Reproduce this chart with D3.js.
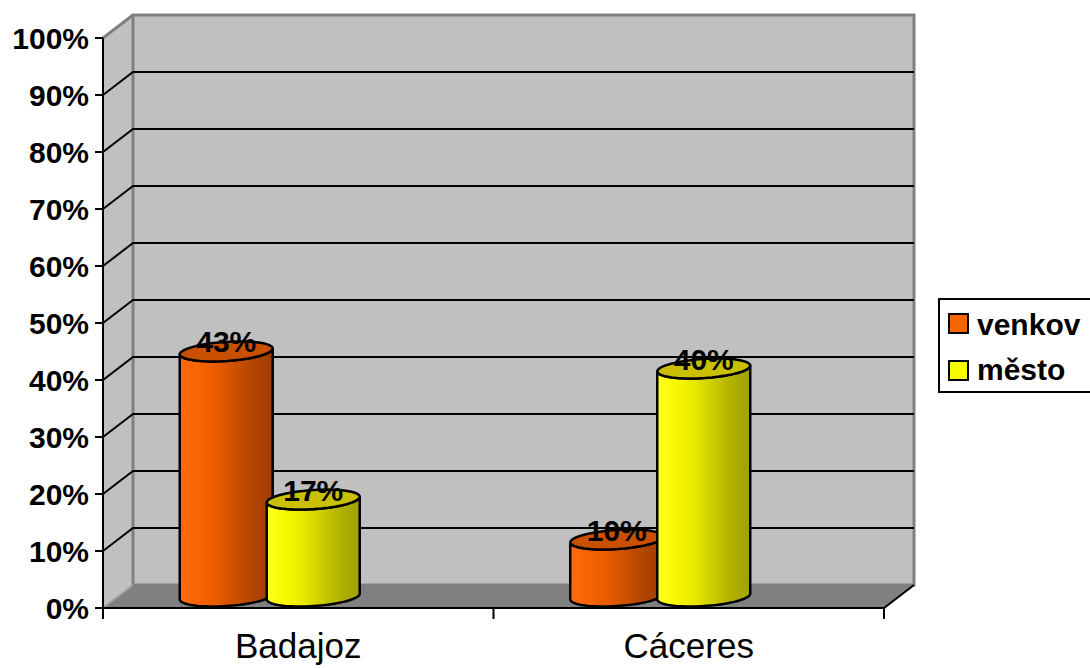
<!DOCTYPE html>
<meta charset="utf-8">
<style>
  body { margin: 0; background: #ffffff; }
  text { font-family: Arial, "Liberation Sans", sans-serif; }
</style>
<script src="https://d3js.org/d3.v7.min.js"></script>
<div id="chart"></div>
<script>

var categories = ["Badajoz", "Cáceres"];
var seriesNames = ["venkov", "město"];
var venkov = [43, 10];
var mesto = [17, 40];
var yTicks = [0, 10, 20, 30, 40, 50, 60, 70, 80, 90, 100];

var width = 1090, height = 668;
var svg = d3.select("#chart").append("svg")
    .attr("width", width)
    .attr("height", height);

// front plane of the 3d box, the back wall sits up and to the right
var dx = 30, dy = -23;
var x0 = 103, x1 = 884;
var y = d3.scaleLinear().domain([0, 100]).range([608, 38]);
var x = d3.scaleBand().domain(categories).range([x0, x1]);

var seriesColors = [
  { top: "#c85000", stops: ["#ff6a10", "#f86400", "#e85c00", "#cc5000", "#b04400", "#a03c00"] },
  { top: "#c8c000", stops: ["#ffff20", "#f8f800", "#e8e800", "#cccc00", "#b0b000", "#a0a000"] }
];

var defs = svg.append("defs");
seriesColors.forEach(function(c, i) {
  var g = defs.append("linearGradient")
      .attr("id", "grad" + i)
      .attr("x1", "0%").attr("x2", "100%").attr("y1", "0%").attr("y2", "0%");
  c.stops.forEach(function(s, k) {
    g.append("stop").attr("offset", (k / (c.stops.length - 1) * 100) + "%").attr("stop-color", s);
  });
});

// side wall
svg.append("polygon")
    .attr("points", [[x0, y(100)], [x0 + dx, y(100) + dy], [x0 + dx, y(0) + dy], [x0, y(0)]].join(" "))
    .attr("fill", "#c0c0c0");

// back wall
svg.append("rect")
    .attr("x", x0 + dx).attr("y", y(100) + dy)
    .attr("width", x1 - x0).attr("height", y(0) - y(100))
    .attr("fill", "#c0c0c0")
    .attr("stroke", "#808080")
    .attr("stroke-width", 3);

// floor
svg.append("polygon")
    .attr("points", [[x0, y(0)], [x0 + dx, y(0) + dy], [x1 + dx, y(0) + dy], [x1, y(0)]].join(" "))
    .attr("fill", "#808080");

svg.append("line")
    .attr("x1", x0).attr("y1", y(100))
    .attr("x2", x0 + dx).attr("y2", y(100) + dy)
    .attr("stroke", "#808080").attr("stroke-width", 3);
svg.append("line")
    .attr("x1", x0).attr("y1", y(0))
    .attr("x2", x0 + dx).attr("y2", y(0) + dy)
    .attr("stroke", "#a0a0a0").attr("stroke-width", 2);

// gridlines
var grid = svg.append("g");
yTicks.filter(function(t) { return t > 0 && t < 100; }).forEach(function(t) {
  grid.append("polyline")
      .attr("points", [[x0, y(t)], [x0 + dx, y(t) + dy], [x1 + dx, y(t) + dy]].join(" "))
      .attr("fill", "none")
      .attr("stroke", "#000")
      .attr("stroke-width", 2);
});

// axes
var yAxis = svg.append("g");
yAxis.append("line")
    .attr("x1", x0).attr("x2", x0).attr("y1", y(100)).attr("y2", y(0))
    .attr("stroke", "#000").attr("stroke-width", 2);
yTicks.forEach(function(t) {
  yAxis.append("line")
      .attr("x1", x0 - 8).attr("x2", x0).attr("y1", y(t)).attr("y2", y(t))
      .attr("stroke", "#000").attr("stroke-width", 2);
  yAxis.append("text")
      .attr("x", x0 - 14).attr("y", y(t))
      .attr("dy", "0.36em")
      .attr("text-anchor", "end")
      .attr("font-size", "30px")
      .attr("font-weight", "bold")
      .text(t + "%");
});

var xAxis = svg.append("g");
xAxis.append("polyline")
    .attr("points", [[x0, y(0)], [x1, y(0)], [x1 + dx, y(0) + dy]].join(" "))
    .attr("fill", "none").attr("stroke", "#000").attr("stroke-width", 2);
[x0, x0 + x.bandwidth(), x1].forEach(function(t) {
  xAxis.append("line")
      .attr("x1", t).attr("x2", t).attr("y1", y(0)).attr("y2", y(0) + 11)
      .attr("stroke", "#000").attr("stroke-width", 2);
});
categories.forEach(function(c) {
  xAxis.append("text")
      .attr("x", x(c) + x.bandwidth() / 2)
      .attr("y", 658)
      .attr("text-anchor", "middle")
      .attr("font-size", "35px")
      .text(c);
});

// cylinders
var a = 44.5, bx = 13.5, by = -10;   // half width and half depth vector
var t0 = Math.atan2(bx, a);
function pt(cx, cy, t) {
  return [cx + a * Math.cos(t) + bx * Math.sin(t), cy + by * Math.sin(t)];
}
function arc(cx, cy, from, to) {
  var pts = [];
  for (var i = 0; i <= 40; i++) pts.push(pt(cx, cy, from + (to - from) * i / 40));
  return pts;
}

var bars = [];
categories.forEach(function(c, ci) {
  [venkov[ci], mesto[ci]].forEach(function(v, si) {
    bars.push({ cat: c, series: si, value: v });
  });
});

var cylG = svg.append("g");
bars.forEach(function(d) {
  var cx = x(d.cat) + x.bandwidth() / 2 + dx / 2 + (d.series - 1) * 87;
  var yb = y(0) + dy / 2, yt = y(d.value) + dy / 2;
  var tL = Math.PI + t0, tR = 2 * Math.PI + t0;
  var bottom = arc(cx, yb, tL, tR);
  var topFront = arc(cx, yt, tR, tL);
  var body = bottom.concat(topFront);
  cylG.append("path")
      .attr("d", d3.line()(body) + "Z")
      .attr("fill", "url(#grad" + d.series + ")")
      .attr("stroke", "#000")
      .attr("stroke-width", 2.5)
      .attr("stroke-linejoin", "round");
  cylG.append("path")
      .attr("d", d3.line()(arc(cx, yt, 0, 2 * Math.PI)) + "Z")
      .attr("fill", seriesColors[d.series].top)
      .attr("stroke", "#000")
      .attr("stroke-width", 2.5);
  d.cx = cx; d.yt = yt;
});

// value labels
bars.forEach(function(d) {
  cylG.append("text")
      .attr("x", d.cx).attr("y", d.yt + 1)
      .attr("text-anchor", "middle")
      .attr("font-size", "30px")
      .attr("font-weight", "bold")
      .text(d.value + "%");
});

// legend
var legend = svg.append("g");
legend.append("rect")
    .attr("x", 939).attr("y", 299)
    .attr("width", 170).attr("height", 93)
    .attr("fill", "#fff").attr("stroke", "#000").attr("stroke-width", 2);
seriesNames.forEach(function(s, i) {
  legend.append("rect")
      .attr("x", 949).attr("y", 314 + i * 47)
      .attr("width", 19).attr("height", 19)
      .attr("fill", seriesColors[i].stops[1])
      .attr("stroke", "#000").attr("stroke-width", 2);
  legend.append("text")
      .attr("x", 977).attr("y", 335 + i * 45)
      .attr("font-size", "30px")
      .attr("font-weight", "bold")
      .text(s);
});

</script>
